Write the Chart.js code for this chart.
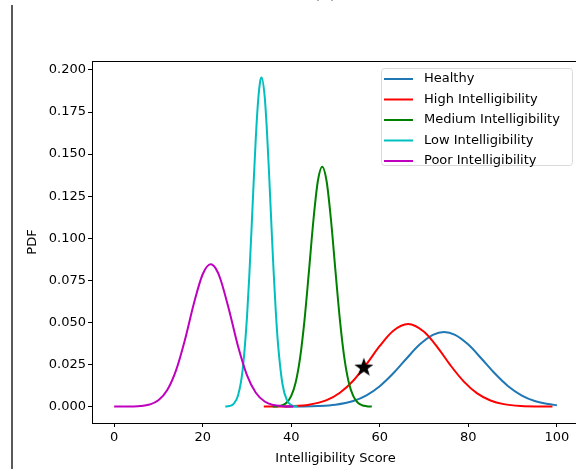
<!DOCTYPE html>
<html>
<head>
<meta charset="utf-8">
<script src="https://cdn.jsdelivr.net/npm/chart.js@4"></script>
<style>
  body { margin: 0; overflow: hidden; background: #fff; }
  #wrap { position: absolute; left: 0; top: 0; width: 590px; height: 469px; }
</style>
</head>
<body>
<div id="wrap"><canvas id="grafico" width="590" height="469"></canvas></div>
<script>
// ---- DATOS ----
const etiquetas = ['Healthy', 'High Intelligibility', 'Medium Intelligibility', 'Low Intelligibility', 'Poor Intelligibility']
const colores = ['#1f77b4', '#ff0000', '#008000', '#00bfbf', '#bf00bf']

const healthyX = [38.5, 42, 46, 50, 54, 57, 60, 63, 66, 69, 72, 74.5, 77, 80, 83, 86, 89, 92, 95, 98, 100]
const healthyY = [0.000015, 0.00007, 0.0003, 0.0011, 0.0033, 0.0067, 0.0121, 0.0196, 0.0284, 0.0368, 0.0426, 0.0443, 0.0426, 0.0368, 0.0284, 0.0196, 0.0121, 0.0067, 0.0033, 0.00146, 0.0008]

const highX = [33.8, 36, 40, 44, 48, 51, 54, 57, 60, 63, 66.4, 70, 73, 76, 79, 82, 85, 88, 92, 96, 99]
const highY = [0.000016, 0.00005, 0.00025, 0.0011, 0.0038, 0.0082, 0.0153, 0.0252, 0.036, 0.0449, 0.049, 0.0444, 0.0353, 0.0244, 0.0148, 0.0078, 0.0036, 0.00145, 0.00035, 0.00007, 0.00002]

const mediumX = [35.8, 37, 38, 39, 40, 41, 42, 43, 44, 45, 46, 47, 48, 49, 50, 51, 52, 53, 54, 55, 56, 57, 58.2]
const mediumY = [0.00005, 0.00024, 0.0008, 0.0024, 0.0063, 0.0143, 0.0289, 0.0514, 0.0803, 0.1104, 0.1337, 0.1425, 0.1337, 0.1104, 0.0803, 0.0514, 0.0289, 0.0143, 0.0063, 0.0024, 0.0008, 0.00024, 0.00005]

const lowX = [25.1, 26, 27, 28, 29, 30, 30.5, 31, 31.5, 32, 32.5, 33, 33.3, 34, 34.5, 35, 35.5, 36, 36.5, 37, 38, 39, 40, 41, 41.5]
const lowY = [0.00006, 0.0003, 0.00166, 0.0067, 0.0212, 0.0528, 0.0762, 0.1035, 0.1325, 0.1596, 0.181, 0.1934, 0.1955, 0.1843, 0.1644, 0.1382, 0.1093, 0.0814, 0.0571, 0.0377, 0.0137, 0.0039, 0.0009, 0.00016, 0.00005]

const poorX = [0, 2, 4, 6, 8, 10, 12, 14, 16, 18, 20, 21.8, 23, 24, 26, 28, 30, 32, 34, 36, 38, 40.5]
const poorY = [0.000002, 0.00001, 0.00007, 0.0003, 0.0012, 0.0037, 0.0098, 0.0216, 0.0397, 0.0611, 0.0786, 0.0845, 0.0818, 0.0758, 0.0569, 0.0357, 0.0187, 0.0082, 0.003, 0.0009, 0.00023, 0.00003]

const estrellaX = [56.4]
const estrellaY = [0.0231]

const xTicks = [0, 20, 40, 60, 80, 100]
const yTicks = [0, 0.025, 0.05, 0.075, 0.1, 0.125, 0.15, 0.175, 0.2]

const seriesX = [healthyX, highX, mediumX, lowX, poorX]
const seriesY = [healthyY, highY, mediumY, lowY, poorY]

// ---- UNIR X E Y ----
function juntar(xs, ys) {
    return xs.map((x, i) => ({ x: x, y: ys[i] }))
}

// ---- ESTRELLA RELLENA COMO EN MATPLOTLIB ----
function crearEstrella() {
    const c = document.createElement('canvas')
    c.width = 22
    c.height = 22
    const ctx = c.getContext('2d')
    ctx.beginPath()
    for (let i = 0; i < 10; i++) {
        const r = i % 2 == 0 ? 10 : 4
        const a = -Math.PI / 2 + i * Math.PI / 5
        ctx.lineTo(11 + r * Math.cos(a), 11 + r * Math.sin(a))
    }
    ctx.closePath()
    ctx.fillStyle = '#000'
    ctx.fill()
    return c
}

const fuente = 'DejaVu Sans, sans-serif'

let datasets = etiquetas.map((nombre, i) => ({
    label: nombre,
    data: juntar(seriesX[i], seriesY[i]),
    borderColor: colores[i],
    borderWidth: 2,
    pointRadius: 0,
    fill: false,
    cubicInterpolationMode: 'monotone',
    order: 5 - i
}))

datasets.push({
    label: 'star',
    data: juntar(estrellaX, estrellaY),
    showLine: false,
    pointStyle: crearEstrella(),
    pointRadius: 10,
    order: -1
})

// ---- MARCO, LEYENDA, TITULO ----
const extras = {
    id: 'extras',
    afterDraw(chart) {
        const ctx = chart.ctx
        const a = chart.chartArea
        ctx.save()
        ctx.strokeStyle = '#000'
        ctx.lineWidth = 1
        ctx.strokeRect(a.left + 0.5, a.top + 0.5, a.right - a.left, a.bottom - a.top)

        // linea vertical a la izquierda
        ctx.lineWidth = 1.3
        ctx.beginPath()
        ctx.moveTo(12, 5)
        ctx.lineTo(12, 469)
        ctx.stroke()

        // titulo cortado
        ctx.fillStyle = '#000'
        ctx.font = '16px ' + fuente
        ctx.textAlign = 'center'
        ctx.textBaseline = 'alphabetic'
        ctx.fillText('(a)', 325, -2)

        // leyenda
        const lx = 381, ly = 68, lw = 191, lh = 97
        ctx.beginPath()
        ctx.roundRect(lx + 0.5, ly + 0.5, lw, lh, 3)
        ctx.fillStyle = 'rgba(255,255,255,0.8)'
        ctx.fill()
        ctx.strokeStyle = '#d9d9d9'
        ctx.lineWidth = 1
        ctx.stroke()
        ctx.font = '13px ' + fuente
        ctx.textAlign = 'left'
        ctx.textBaseline = 'middle'
        etiquetas.forEach((nombre, i) => {
            const y = 79 + i * 20.5
            ctx.strokeStyle = colores[i]
            ctx.lineWidth = 2
            ctx.beginPath()
            ctx.moveTo(384, y)
            ctx.lineTo(413, y)
            ctx.stroke()
            ctx.fillStyle = '#000'
            ctx.fillText(nombre, 424, y)
        })
        ctx.restore()
    }
}

const config = {
    type: 'line',
    data: { datasets: datasets },
    options: {
        responsive: false,
        animation: false,
        devicePixelRatio: 1,
        layout: { padding: { left: 0, top: 61, right: 11, bottom: 0 } },
        plugins: { legend: { display: false }, tooltip: { enabled: false } },
        scales: {
            x: {
                type: 'linear',
                min: -5,
                max: 105,
                afterBuildTicks: s => { s.ticks = xTicks.map(v => ({ value: v })) },
                afterFit: s => { s.height = 46 },
                ticks: { color: '#000', font: { family: fuente, size: 13 }, padding: 3, maxRotation: 0, callback: v => String(v) },
                grid: { drawOnChartArea: false, drawTicks: true, tickLength: 4, tickColor: '#000' },
                border: { color: '#000', width: 1 },
                title: { display: true, text: 'Intelligibility Score', color: '#000', font: { family: fuente, size: 13 }, padding: { top: 0, bottom: 3 } }
            },
            y: {
                type: 'linear',
                min: -0.00977,
                max: 0.2053,
                afterBuildTicks: s => { s.ticks = yTicks.map(v => ({ value: v })) },
                afterFit: s => { s.width = 92 },
                ticks: { color: '#000', font: { family: fuente, size: 13 }, padding: 2, callback: v => v.toFixed(3) },
                grid: { drawOnChartArea: false, drawTicks: true, tickLength: 4, tickColor: '#000' },
                border: { color: '#000', width: 1 },
                title: { display: true, text: 'PDF', color: '#000', font: { family: fuente, size: 13 }, padding: { top: 25, bottom: 0 } }
            }
        }
    },
    plugins: [extras]
}

new Chart(document.querySelector('#grafico'), config)
</script>
</body>
</html>
